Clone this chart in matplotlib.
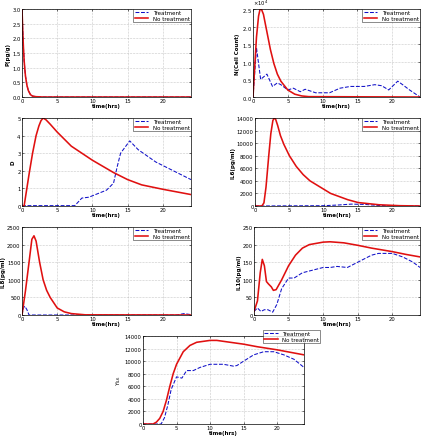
import matplotlib.pyplot as plt
from matplotlib.ticker import ScalarFormatter

# --- data (time in hrs) ---
p_t = [0, 0.1, 0.2, 0.3, 0.4, 0.5, 0.7, 0.9, 1.2, 1.5, 2, 3, 24]
p_no = [3, 2.3, 1.7, 1.25, 0.95, 0.7, 0.4, 0.22, 0.08, 0.03, 0.01, 0, 0]
p_tr = [3, 2.3, 1.7, 1.25, 0.95, 0.7, 0.4, 0.22, 0.08, 0.03, 0.01, 0, 0]

n_t_no = [0, 0.2, 0.5, 0.8, 1.0, 1.2, 1.5, 2, 2.5, 3, 3.5, 4, 5, 6, 7, 8, 24]
n_no = [0, 0.7, 1.7, 2.3, 2.48, 2.5, 2.35, 1.85, 1.35, 0.95, 0.65, 0.45, 0.2, 0.08, 0.03, 0.01, 0]
n_t_tr = [0, 0.5, 1.1, 2, 2.8, 3.5, 4, 5, 5.8, 6.8, 7.5, 9, 11, 12.5, 14, 16, 17.5,
          18.5, 19.5, 20.8, 21.5, 22.5, 24]
n_tr = [0, 1.4, 0.5, 0.65, 0.3, 0.4, 0.35, 0.2, 0.25, 0.15, 0.22, 0.12, 0.12, 0.25,
        0.3, 0.3, 0.35, 0.32, 0.2, 0.45, 0.35, 0.2, 0]

d_t_no = [0, 0.3, 1, 1.5, 2, 2.4, 2.7, 3, 3.4, 4, 5, 6, 7, 8.5, 10, 11.5, 13, 15, 17,
          20, 22, 24]
d_no = [0, 0, 1.8, 3.0, 4.0, 4.55, 4.85, 5.0, 4.9, 4.65, 4.2, 3.8, 3.4, 3.0, 2.6, 2.25,
        1.9, 1.5, 1.2, 0.95, 0.8, 0.65]
d_t_tr = [0, 7.5, 8.5, 9.5, 12, 13, 13.5, 14, 15.3, 16.5, 19, 20.5, 24]
d_tr = [0.02, 0.02, 0.45, 0.5, 0.9, 1.3, 2.2, 3.0, 3.7, 3.2, 2.5, 2.2, 1.5]

il6_t_no = [0, 1, 1.3, 1.6, 2, 2.3, 2.6, 2.8, 3.0, 3.3, 3.7, 4.2, 5, 6, 7, 8, 9.5, 11,
            13.5, 15, 18, 21, 24]
il6_no = [0, 0, 500, 3000, 8000, 11500, 13600, 14000, 13800, 12800, 11200, 9800, 8000,
          6300, 5000, 4000, 3000, 2000, 1000, 550, 200, 50, 0]
il6_t_tr = [0, 10, 12, 14, 16, 18, 24]
il6_tr = [0, 50, 150, 300, 250, 80, 0]

il8_t_no = [0, 0.5, 1, 1.4, 1.7, 2.0, 2.5, 3, 3.5, 4, 5, 6, 7, 9, 24]
il8_no = [0, 700, 1500, 2150, 2250, 2100, 1500, 1000, 700, 500, 200, 90, 40, 5, 0]
il8_t_tr = [0, 0.2, 0.4, 0.7, 1, 1.5, 22, 23, 24]
il8_tr = [0, 200, 250, 150, 0, 0, 0, 40, 10]

il10_t_no = [0, 0.5, 0.9, 1.2, 1.5, 1.8, 2.1, 2.5, 2.8, 3.2, 4, 5, 6, 7, 8, 10, 11,
             13, 15, 17, 20, 22, 24]
il10_no = [10, 40, 120, 158, 140, 95, 88, 80, 70, 72, 100, 140, 170, 190, 200, 207,
           208, 205, 198, 190, 180, 172, 165]
il10_t_tr = [0, 0.5, 1, 1.5, 2, 2.7, 3.3, 4, 5, 5.8, 7, 8, 10, 11, 12, 13.5, 14, 15,
             17, 18, 20, 21.5, 23, 24]
il10_tr = [10, 20, 10, 15, 15, 8, 30, 75, 105, 105, 120, 125, 135, 135, 138, 135,
           140, 150, 170, 175, 175, 165, 150, 135]

y_t_no = [0, 1.5, 2, 2.5, 3, 3.5, 4, 4.5, 5, 6, 7, 8, 10, 11, 13, 15, 17, 20, 24]
y_no = [0, 0, 300, 900, 2000, 3800, 6000, 8000, 9500, 11500, 12500, 13000, 13300,
        13300, 13000, 12700, 12300, 11800, 11000]
y_t_tr = [0, 2.7, 3.2, 3.7, 4.2, 5, 5.8, 6.5, 7.5, 8.5, 10, 12, 13.5, 14, 15, 16.5,
          18, 19.5, 21, 22.5, 24]
y_tr = [0, 0, 1000, 3000, 5500, 7500, 7300, 8500, 8500, 9000, 9500, 9500, 9200, 9300,
        10000, 11000, 11500, 11500, 11000, 10300, 9000]

W, H = 423, 439
fig = plt.figure(figsize=(W / 100, H / 100), dpi=100)


def pos(x0, y0, x1, y1):
    return [x0 / W, 1 - y1 / H, (x1 - x0) / W, (y1 - y0) / H]


panels = [
    (pos(22, 10, 191, 98), p_t, p_tr, p_t, p_no, 'P(pg/g)', (0, 3), 0.5),
    (pos(253, 10, 420, 98), n_t_tr, [v * 1e4 for v in n_tr], n_t_no,
     [v * 1e4 for v in n_no], 'N(Cell Count)', (0, 2.5e4), 0.5e4),
    (pos(22, 119, 191, 207), d_t_tr, d_tr, d_t_no, d_no, 'D', (0, 5), 1),
    (pos(255, 119, 420, 207), il6_t_tr, il6_tr, il6_t_no, il6_no, 'IL6(pg/ml)',
     (0, 14000), 2000),
    (pos(22, 228, 191, 316), il8_t_tr, il8_tr, il8_t_no, il8_no, 'IL8(pg/ml)',
     (0, 2500), 500),
    (pos(254, 228, 420, 316), il10_t_tr, il10_tr, il10_t_no, il10_no, 'IL10(pg/ml)',
     (0, 250), 50),
    (pos(143, 337, 304, 425), y_t_tr, y_tr, y_t_no, y_no, '$Y_{IL6}$', (0, 14000), 2000),
]

for i, (rect, ttr, vtr, tno, vno, lab, ylim, step) in enumerate(panels):
    ax = fig.add_axes(rect)
    ax.plot(ttr, vtr, '--', color='#1010c8', lw=0.75, label='Treatment')
    ax.plot(tno, vno, '-', color='#e01010', lw=1.15, label='No treatment')
    ax.set_xlim(0, 24)
    ax.set_ylim(*ylim)
    ax.set_xticks([0, 5, 10, 15, 20])
    n = int(round((ylim[1] - ylim[0]) / step))
    ax.set_yticks([ylim[0] + k * step for k in range(n + 1)])
    ax.grid(True, ls=':', lw=0.4, color='#999999')
    ax.tick_params(labelsize=3.8, length=1.5, width=0.4, pad=1, direction='in',
                   top=True, right=True)
    for s in ax.spines.values():
        s.set_linewidth(0.5)
    ax.set_xlabel('time(hrs)', fontsize=4, labelpad=0, fontweight='bold')
    ax.set_ylabel(lab, fontsize=4, labelpad=1, fontweight='bold')
    if i == 1:
        fmt = ScalarFormatter(useMathText=True)
        fmt.set_powerlimits((0, 0))
        ax.yaxis.set_major_formatter(fmt)
        ax.yaxis.get_offset_text().set_fontsize(3.8)
    if i == 6:
        leg = ax.legend(loc='upper right', bbox_to_anchor=(1.1, 1.07), fontsize=4,
                        frameon=True, fancybox=False, borderpad=0.2,
                        handlelength=2.5, labelspacing=0.1, borderaxespad=0)
    else:
        leg = ax.legend(loc='upper right', fontsize=4, frameon=True, fancybox=False,
                        borderpad=0.2, handlelength=2.5, labelspacing=0.1,
                        borderaxespad=0)
    leg.get_frame().set_edgecolor('black')
    leg.get_frame().set_linewidth(0.4)

fig.savefig('out.png', dpi=100)
